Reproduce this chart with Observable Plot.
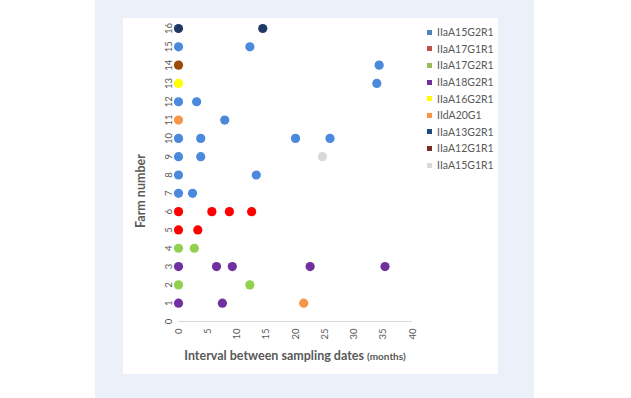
<!DOCTYPE html>
<html><head><meta charset="utf-8">
<script src="https://cdn.jsdelivr.net/npm/d3@7"></script>
<script src="https://cdn.jsdelivr.net/npm/@observablehq/plot@0.6"></script>
<style>
body{margin:0;width:631px;height:398px;background:#fff;position:relative;overflow:hidden;font-family:Lato,"Open Sans",sans-serif;}
#bg{position:absolute;left:95px;top:0;width:439px;height:398px;background:#ecf1f9;}
#panel{position:absolute;left:123px;top:18px;width:375px;height:356px;background:#fff;}
#chart{position:absolute;left:0;top:0;}
#xtitle{position:absolute;left:0;width:344px;top:330px;text-align:center;font-weight:bold;font-size:12.5px;color:#595959;white-space:nowrap;}
#xtitle span{font-size:10px;}
#ytitle{position:absolute;left:17px;top:173px;transform:translate(-50%,-50%) rotate(-90deg);font-weight:bold;font-size:12.5px;color:#595959;white-space:nowrap;}
#legend{position:absolute;left:304px;top:6px;}
.item{height:16.6px;display:flex;align-items:center;font-size:10.5px;color:#595959;white-space:nowrap;}
.sw{width:5px;height:5px;margin-right:5px;}
</style></head>
<body>
<div id="bg"></div>
<div id="panel">
  <div id="chart"></div>
  <div id="xtitle">Interval between sampling dates <span>(months)</span></div>
  <div id="ytitle">Farm number</div>
  <div id="legend"></div>
</div>
<script>
// Series (subtypes) in legend order
const subtypes = ["IIaA15G2R1","IIaA17G1R1","IIaA17G2R1","IIaA18G2R1","IIaA16G2R1","IIdA20G1","IIaA13G2R1","IIaA12G1R1","IIaA15G1R1"];
const dotColors = ["#4a89dc","#ff0000","#92d050","#7030a0","#ffff00","#f79646","#1f3864","#9c4a0a","#d9d9d9"];
const legendColors = ["#4f81bd","#c0504d","#9bbb59","#7030a0","#ffff00","#f79646","#1f497d","#772c2a","#d9d9d9"];

// Points: farm number, interval (months), subtype
const farm   = [16,16, 15,15, 14,14, 13,13, 12,12, 11,11, 10,10,10,10, 9,9,9, 8,8, 7,7, 6,6,6,6, 5,5, 4,4, 3,3,3,3,3, 2,2, 1,1,1];
const months = [0,14.4, 0,12.2, 0,34.3, 0,33.9, 0,3.1, 0,7.9, 0,3.8,20.0,25.9, 0,3.8,24.6, 0,13.3, 0,2.4, 0,5.7,8.7,12.5, 0,3.3, 0,2.7, 0,6.5,9.2,22.5,35.3, 0,12.2, 0,7.5,21.4];
const strain = [
  "IIaA13G2R1","IIaA13G2R1",
  "IIaA15G2R1","IIaA15G2R1",
  "IIaA12G1R1","IIaA15G2R1",
  "IIaA16G2R1","IIaA15G2R1",
  "IIaA15G2R1","IIaA15G2R1",
  "IIdA20G1","IIaA15G2R1",
  "IIaA15G2R1","IIaA15G2R1","IIaA15G2R1","IIaA15G2R1",
  "IIaA15G2R1","IIaA15G2R1","IIaA15G1R1",
  "IIaA15G2R1","IIaA15G2R1",
  "IIaA15G2R1","IIaA15G2R1",
  "IIaA17G1R1","IIaA17G1R1","IIaA17G1R1","IIaA17G1R1",
  "IIaA17G1R1","IIaA17G1R1",
  "IIaA17G2R1","IIaA17G2R1",
  "IIaA18G2R1","IIaA18G2R1","IIaA18G2R1","IIaA18G2R1","IIaA18G2R1",
  "IIaA17G2R1","IIaA17G2R1",
  "IIaA18G2R1","IIaA18G2R1","IIdA20G1"
];
const xTicks = [0,5,10,15,20,25,30,35,40];
const yTicks = [0,1,2,3,4,5,6,7,8,9,10,11,12,13,14,15,16];

const data = farm.map((f,i)=>({farm:f, months:months[i], strain:strain[i]}));

const chart = Plot.plot({
  width: 375, height: 356,
  marginLeft: 55, marginRight: 86, marginTop: 10, marginBottom: 53,
  style: {background:"transparent", fontFamily:"Lato, 'Open Sans', sans-serif", fontSize:"9.5px", color:"#595959"},
  x: {domain:[0,40]},
  y: {domain:[0,16]},
  color: {domain: subtypes, range: dotColors},
  marks: [
    Plot.ruleY([0], {stroke:"#d9d9d9", strokeWidth:1.2}),
    Plot.axisX({ticks:xTicks, tickSize:0, tickPadding:7, tickRotate:-90, label:null, tickFormat:d=>String(d), fill:"#595959"}),
    Plot.axisY({ticks:yTicks, tickSize:0, tickPadding:7, tickRotate:-90, label:null, tickFormat:d=>String(d), fill:"#595959"}),
    Plot.dot(data, {x:"months", y:"farm", fill:"strain", r:4.6, stroke:null})
  ]
});
document.getElementById("chart").appendChild(chart);

const legend = document.getElementById("legend");
subtypes.forEach((s,i)=>{
  const it = document.createElement("div"); it.className="item";
  const sw = document.createElement("div"); sw.className="sw"; sw.style.background=legendColors[i];
  const t = document.createElement("span"); t.textContent=s;
  it.appendChild(sw); it.appendChild(t); legend.appendChild(it);
});
</script>
</body></html>
